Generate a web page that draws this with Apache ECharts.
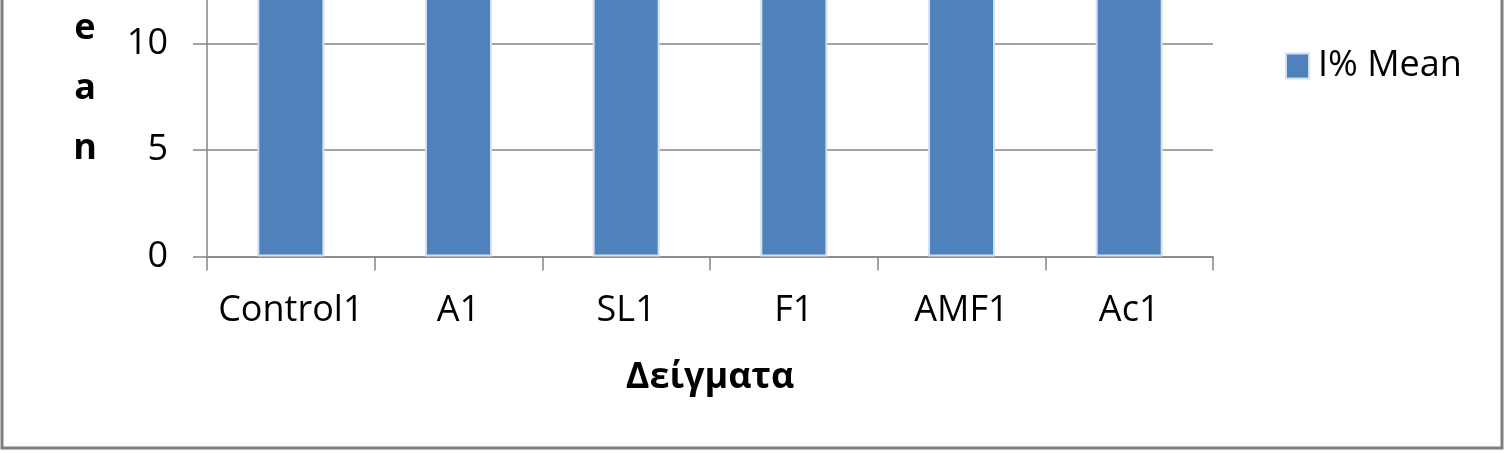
<!DOCTYPE html>
<html>
<head>
<meta charset="utf-8">
<script src="https://cdn.jsdelivr.net/npm/echarts@6/dist/echarts.min.js"></script>
<style>
  html, body { margin: 0; padding: 0; background: #fff; }
  #chart { width: 1506px; height: 453px; }
</style>
</head>
<body>
<div id="chart"></div>
<script>
// samples and I% mean (bar tops are cut off above the picture, values estimated)
var samples = ['Control1', 'A1', 'SL1', 'F1', 'AMF1', 'Ac1'];
var meanValues = [17.2, 16.5, 18.1, 15.9, 16.8, 17.6];
var seriesName = 'I% Mean';
var yTitleLetters = ['I', '%', ' ', 'M', 'e', 'a', 'n'];
var xTitle = 'Δείγματα';

var FONT = '"Open Sans", "DejaVu Sans", sans-serif';

var chart = echarts.init(document.getElementById('chart'));

var option = {
    backgroundColor: '#fff',
    animation: false,
    textStyle: { fontFamily: FONT },
    graphic: [{
        type: 'rect',
        shape: { x: 2, y: -10, width: 1500, height: 458 },
        style: { fill: 'none', stroke: '#7f7f7f', lineWidth: 3 },
        silent: true
    }],
    legend: {
        data: [seriesName],
        left: 1280,
        top: 43,
        itemWidth: 23,
        itemHeight: 25,
        icon: 'rect',
        textStyle: { fontSize: 36, color: '#000', fontFamily: FONT, padding: [0, 0, 0, 4] }
    },
    grid: {
        left: 207,
        right: 293,
        top: -169,
        bottom: 196.5,
        containLabel: false,
        outerBoundsMode: 'none'
    },
    xAxis: {
        type: 'category',
        data: samples,
        name: xTitle,
        nameLocation: 'middle',
        nameGap: 103,
        nameTextStyle: { fontSize: 36, fontWeight: 'bold', color: '#000', fontFamily: FONT },
        axisLine: { lineStyle: { color: '#868686', width: 1.5 } },
        axisTick: { show: true, length: 14, lineStyle: { color: '#868686', width: 1.5 } },
        axisLabel: { fontSize: 36, color: '#000', margin: 36, interval: 0, fontFamily: FONT }
    },
    yAxis: {
        type: 'value',
        min: 0,
        max: 20,
        interval: 5,
        // stacked letters, an empty tall last line lifts the stack
        name: yTitleLetters.join('\n') + '\n{gap| }',
        nameLocation: 'middle',
        nameRotate: 0,
        nameGap: 122,
        nameTextStyle: {
            fontSize: 36, fontWeight: 'bold', color: '#000', fontFamily: FONT,
            align: 'center', lineHeight: 60,
            rich: { gap: { lineHeight: 150, fontSize: 36 } }
        },
        axisLine: { show: true, lineStyle: { color: '#868686', width: 1.5 } },
        axisTick: { show: true, length: 14, lineStyle: { color: '#868686', width: 1.5 } },
        axisLabel: { fontSize: 36, color: '#000', margin: 39, fontFamily: FONT },
        splitLine: { lineStyle: { color: '#868686', width: 1.5 } }
    },
    series: [{
        name: seriesName,
        type: 'bar',
        data: meanValues,
        barWidth: 67,
        itemStyle: { color: '#4f81bd', borderColor: '#d3e0f1', borderWidth: 2 }
    }]
};

chart.setOption(option);
window.addEventListener('resize', function () {
    chart.resize();
});
</script>
</body>
</html>
